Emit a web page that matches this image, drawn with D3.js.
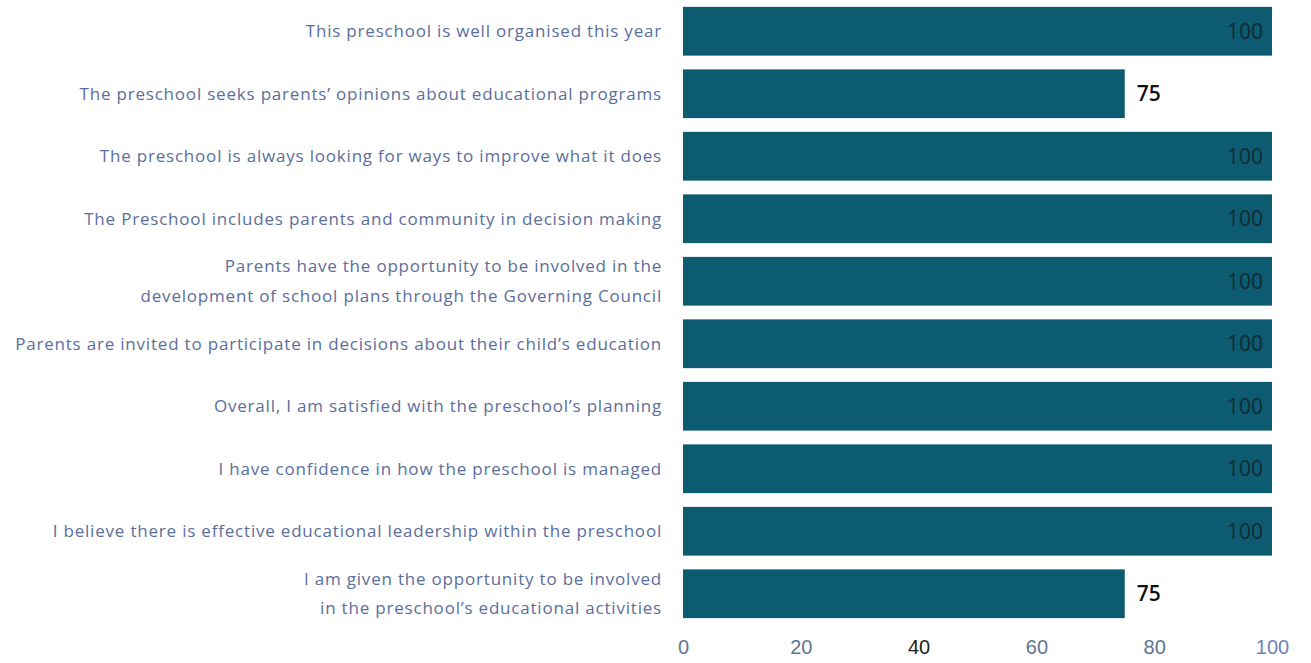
<!DOCTYPE html>
<html>
<head>
<meta charset="utf-8">
<script src="https://cdn.jsdelivr.net/npm/d3@7"></script>
<style>
  body { margin: 0; background: #fff; }
  svg { display: block; font-family: 'Open Sans', 'Noto Sans', sans-serif; }
  .label { fill: #5b6e9c; font-size: 17px; letter-spacing: 0.8px; }
  .tick text { fill: #5f7591; font-size: 20px; }
  .value-in { fill: #132a33; font-size: 21px; }
  .value-out { fill: #111; font-size: 21px; font-weight: 600; }
</style>
</head>
<body>
<svg id="chart" width="1311" height="663"></svg>
<script>
'use strict';
// statements, top to bottom
const questions = [
    ['This preschool is well organised this year'],
    ['The preschool seeks parents\u2019 opinions about educational programs'],
    ['The preschool is always looking for ways to improve what it does'],
    ['The Preschool includes parents and community in decision making'],
    ['Parents have the opportunity to be involved in the', 'development of school plans through the Governing Council'],
    ['Parents are invited to participate in decisions about their child\u2019s education'],
    ['Overall, I am satisfied with the preschool\u2019s planning'],
    ['I have confidence in how the preschool is managed'],
    ['I believe there is effective educational leadership within the preschool'],
    ['I am given the opportunity to be involved', 'in the preschool\u2019s educational activities']
];
const scores = [100, 75, 100, 100, 100, 100, 100, 100, 100, 75];
const xTicks = [0, 20, 40, 60, 80, 100];

const svg = d3.select('#chart');
const margin = { top: 0, right: 39, bottom: 38, left: 683 };
const width = 1311 - margin.left - margin.right;
const height = 663 - margin.top - margin.bottom;

const data = questions.map((q, i) => ({ id: i, lines: q, value: scores[i] }));

const x = d3.scaleLinear().domain([0, 100]).range([0, width]);
const y = d3.scaleBand().domain(data.map(d => d.id)).range([0, height]).paddingInner(0.22).paddingOuter(0.11);

const g = svg.append('g').attr('transform', 'translate(' + margin.left + ',' + margin.top + ')');

g.selectAll('rect.bar')
    .data(data)
    .enter()
    .append('rect')
    .attr('class', 'bar')
    .attr('x', 0)
    .attr('y', d => y(d.id))
    .attr('width', d => x(d.value))
    .attr('height', y.bandwidth())
    .style('fill', '#0d5b71');

// value labels: inside the bar when full, outside otherwise
g.selectAll('text.value')
    .data(data)
    .enter()
    .append('text')
    .attr('class', d => d.value === 100 ? 'value-in' : 'value-out')
    .attr('x', d => d.value === 100 ? x(d.value) - 9 : x(d.value) + 12)
    .attr('y', d => y(d.id) + y.bandwidth() / 2)
    .attr('dy', '0.35em')
    .attr('text-anchor', d => d.value === 100 ? 'end' : 'start')
    .text(d => d.value);

// category labels
const labels = g.selectAll('text.label')
    .data(data)
    .enter()
    .append('text')
    .attr('class', 'label')
    .attr('text-anchor', 'end')
    .attr('x', -21)
    .attr('y', d => y(d.id) + y.bandwidth() / 2);

labels.selectAll('tspan')
    .data(d => d.lines.map((t, i) => ({ t, i, n: d.lines.length })))
    .enter()
    .append('tspan')
    .attr('x', -21)
    .attr('dy', d => d.i === 0 ? (0.35 - (d.n - 1) * 0.87) + 'em' : '1.74em')
    .text(d => d.t);

const xAxis = g.append('g')
    .attr('transform', 'translate(0,' + height + ')')
    .call(d3.axisBottom(x).tickValues(xTicks).tickSize(0).tickPadding(15));
xAxis.select('.domain').remove();
xAxis.selectAll('.tick text').style('fill', d => d === 40 ? '#222' : (d === 100 ? '#6f7fc0' : '#5f7591'));
</script>
</body>
</html>
